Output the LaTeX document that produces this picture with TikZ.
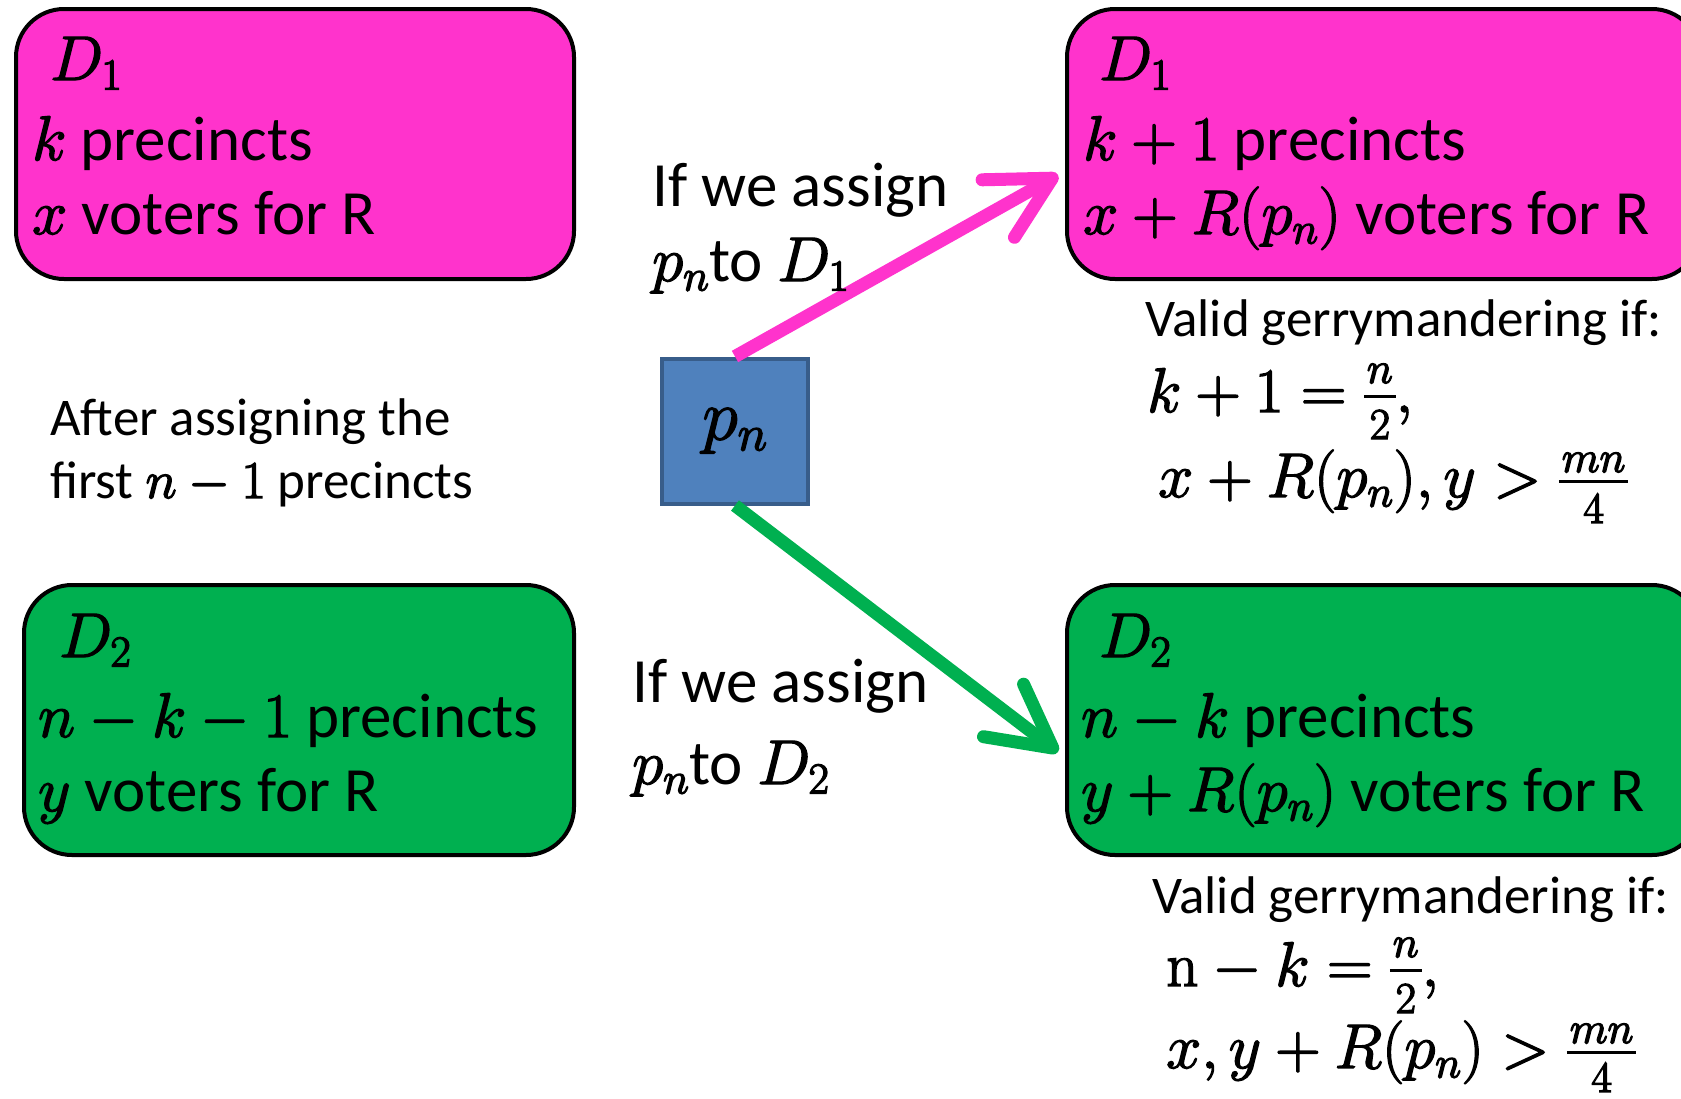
\RequirePackage{fix-cm}
\documentclass[tikz,border=0pt]{standalone}
\usepackage[no-math]{fontspec}
\setmainfont{Carlito}
\usetikzlibrary{arrows.meta}
\definecolor{pinkbox}{RGB}{255,51,204}
\definecolor{greenbox}{RGB}{0,176,80}
\definecolor{bluefill}{RGB}{79,129,189}
\definecolor{blueedge}{RGB}{56,93,138}
% heavier math (fill + thin stroke), like the Cambria Math of the original
\newcommand\M[1]{\special{pdf:literal direct 2 Tr 1.4 w}$#1$\special{pdf:literal direct 0 Tr}}
% fraction: numerator, denominator, numerator raise, denominator drop
\newcommand\mfrac[4]{\mathord{\hbox{%
  \setbox0=\hbox{$\scriptstyle #1$}%
  \setbox2=\hbox{$\scriptstyle #2$}%
  \dimen0=\wd0 \ifdim\wd2>\dimen0 \dimen0=\wd2 \fi
  \advance\dimen0 by 6pt
  \rlap{\raise14.4pt\hbox{\vrule width\dimen0 height 2.8pt depth 0pt}}%
  \rlap{\hbox to\dimen0{\hss\raise#3\box0\hss}}%
  \hbox to\dimen0{\hss\lower#4\box2\hss}}}}
\begin{document}
\begin{tikzpicture}[x=1pt,y=-1pt,
  dbox/.style={draw=black, line width=4pt, rounded corners=48pt, inner sep=0pt, minimum height=270pt},
  big/.style={font=\fontsize{63}{76}\selectfont, inner sep=0pt, anchor=base west},
  small/.style={font=\fontsize{53}{64}\selectfont, inner sep=0pt, anchor=base west},
  conn/.style={line width=13pt, -{Straight Barb[length=62pt,width=66pt,line cap=round,line join=round]}},
]
\useasboundingbox (0,0) rectangle (1681,1098);
\clip (0,0) rectangle (1681,1098);

% district boxes
\node[dbox, fill=pinkbox, minimum width=558pt] (D1a) at (295,144) {};
\node[dbox, fill=pinkbox, minimum width=633pt] (D1b) at (1383.5,144) {};
\node[dbox, fill=greenbox, minimum width=550pt] (D2a) at (299,720) {};
\node[dbox, fill=greenbox, minimum width=633pt] (D2b) at (1383.5,720) {};

% precinct
\node[draw=blueedge, fill=bluefill, line width=4pt, minimum width=146pt, minimum height=145pt, inner sep=0pt,
      font=\fontsize{72}{80}\selectfont] (pn) at (735,431) {\M{p_n}};

% connectors
\coordinate (t1) at (1058,175);
\coordinate (t2) at (1058,752);
\draw[conn, pinkbox] (pn.north) -- (t1);
\draw[conn, greenbox] (pn.south) -- (t2);

% box texts
\node[big] (tl1) at (50,80) {\M{D_1}};
\node[big] (tl2) at (32,160) {\M{k} precincts};
\node[big] (tl3) at (32,234) {\M{x} voters for R};
\node[big] (tr1) at (1099,80) {\M{D_1}};
\node[big] (tr2) at (1083,160) {\M{k+1} precincts};
\node[big] (tr3) at (1083,234) {\M{x+R(p_n)} voters for R};
\node[big] (bl1) at (59,657) {\M{D_2}};
\node[big] (bl2) at (38,737) {\M{n-k-1} precincts};
\node[big] (bl3) at (38,811) {\M{y} voters for R};
\node[big] (br1) at (1099,657) {\M{D_2}};
\node[big] (br2) at (1081,737) {\M{n-k} precincts};
\node[big] (br3) at (1081,811) {\M{y+R(p_n)} voters for R};

% middle texts
\node[big] (a1) at (652,206) {If we assign};
\node[big] (a2) at (652,281) {\M{p_n}to \M{D_1}};
\node[big] (b1) at (632,702) {If we assign};
\node[big] (b2) at (632,784) {\M{p_n}to \M{D_2}};
\node[small] (c1) at (50,435) {After assigning the};
\node[small] (c2) at (50,498) {first \M{n-1} precincts};

% conditions
\node[small] (v1) at (1145,336) {Valid gerrymandering if:};
\node[big] (v2) at (1147,412) {\M{k+1=\mfrac{n}{2}{29pt}{27pt},}};
\node[big] (v3) at (1158,497) {\M{x+R(p_n),y>\mfrac{mn}{4}{25pt}{26pt}}};
\node[small] (w1) at (1152,913) {Valid gerrymandering if:};
\node[big] (w2) at (1166,986) {\M{\mathrm{n}-k=\mfrac{n}{2}{29pt}{27pt},}};
\node[big] (w3) at (1166,1068) {\M{x,y+R(p_n)>\mfrac{mn}{4}{25pt}{24pt}}};
\end{tikzpicture}
\end{document}
